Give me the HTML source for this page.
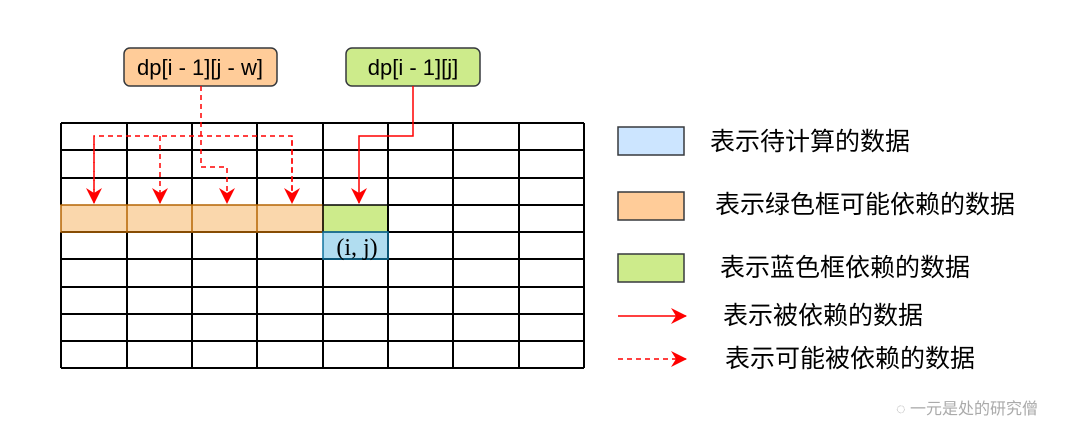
<!DOCTYPE html>
<html><head><meta charset="utf-8"><style>
body{margin:0;background:#fff;width:1065px;height:426px;overflow:hidden;position:relative;font-family:"Liberation Sans","Noto Sans CJK SC",sans-serif}
.t{position:absolute;font-size:25px;color:#000;white-space:nowrap;line-height:28px}
</style></head><body>
<svg width="1065" height="426" style="position:absolute;left:0;top:0">
<defs>
<marker id="b" viewBox="0 0 16 16" markerWidth="16" markerHeight="16" refX="15" refY="8" orient="auto" markerUnits="userSpaceOnUse"><path d="M0,0 L16,8 L0,16 L5,8 Z" fill="#ff0000"/></marker>
</defs>
<rect x="61" y="205" width="262" height="27" fill="#fad7ac"/>
<rect x="323" y="205" width="65" height="27" fill="#cdeb8b"/>
<rect x="323" y="232" width="65" height="27" fill="#b1ddf0"/>
<g stroke="#000" stroke-width="2">
<line x1="61" y1="123" x2="584" y2="123"/><line x1="61" y1="150" x2="584" y2="150"/><line x1="61" y1="178" x2="584" y2="178"/>
<line x1="388" y1="205" x2="584" y2="205"/><line x1="388" y1="232" x2="584" y2="232"/>
<line x1="61" y1="259" x2="584" y2="259"/><line x1="61" y1="287" x2="584" y2="287"/><line x1="61" y1="314" x2="584" y2="314"/><line x1="61" y1="341" x2="584" y2="341"/><line x1="61" y1="368" x2="584" y2="368"/>
<line x1="61" y1="123" x2="61" y2="205"/><line x1="127" y1="123" x2="127" y2="205"/><line x1="192" y1="123" x2="192" y2="205"/><line x1="257" y1="123" x2="257" y2="205"/>
<line x1="61" y1="232" x2="61" y2="368"/><line x1="127" y1="232" x2="127" y2="368"/><line x1="192" y1="232" x2="192" y2="368"/><line x1="257" y1="232" x2="257" y2="368"/>
<line x1="323" y1="123" x2="323" y2="205"/><line x1="323" y1="259" x2="323" y2="368"/>
<line x1="388" y1="123" x2="388" y2="368"/><line x1="453" y1="123" x2="453" y2="368"/><line x1="519" y1="123" x2="519" y2="368"/><line x1="584" y1="123" x2="584" y2="368"/>
<line x1="61" y1="232" x2="323" y2="232"/>
</g>
<g stroke="#b46504" stroke-width="1.5" fill="none">
<rect x="61" y="205" width="262" height="27"/>
<line x1="127" y1="205" x2="127" y2="232"/><line x1="192" y1="205" x2="192" y2="232"/><line x1="257" y1="205" x2="257" y2="232"/>
</g>
<rect x="323" y="205" width="65" height="27" fill="none" stroke="#000" stroke-width="1.5"/>
<rect x="323" y="232" width="65" height="27" fill="none" stroke="#10739e" stroke-width="1.5"/>
<text x="357" y="255" text-anchor="middle" font-family="Liberation Serif" font-size="24">(i, j)</text>
<rect x="124" y="48" width="153" height="38" rx="6" fill="#ffcc99" stroke="#36393d" stroke-width="1.5"/>
<text x="200" y="75" text-anchor="middle" font-size="22">dp[i - 1][j - w]</text>
<rect x="346" y="48" width="134" height="38" rx="6" fill="#cdeb8b" stroke="#36393d" stroke-width="1.5"/>
<text x="413" y="75" text-anchor="middle" font-size="22">dp[i - 1][j]</text>
<g stroke="#ff0000" stroke-width="1.5" fill="none" stroke-dasharray="5,4">
<path d="M201,86 V167 H227 V203" marker-end="url(#b)"/>
<path d="M94,203 V136 H292 V203" />
<path d="M94,140 V203" marker-end="url(#b)"/>
<path d="M160,136 V203" marker-end="url(#b)"/>
<path d="M292,140 V203" marker-end="url(#b)"/>
</g>
<path d="M413,86 V136 H359 V203" stroke="#ff0000" stroke-width="1.5" fill="none" marker-end="url(#b)"/>
<rect x="618" y="127" width="66" height="28" fill="#cce5ff" stroke="#36393d" stroke-width="1.5"/>
<rect x="618" y="192" width="66" height="28" fill="#ffcc99" stroke="#36393d" stroke-width="1.5"/>
<rect x="618" y="254" width="66" height="28" fill="#cdeb8b" stroke="#36393d" stroke-width="1.5"/>
<line x1="618" y1="316" x2="686" y2="316" stroke="#ff0000" stroke-width="1.5" marker-end="url(#b)"/>
<line x1="618" y1="359" x2="686" y2="359" stroke="#ff0000" stroke-width="1.5" stroke-dasharray="5,4" marker-end="url(#b)"/>
</svg>
<div class="t" style="left:710px;top:128px">表示待计算的数据</div>
<div class="t" style="left:715px;top:191px">表示绿色框可能依赖的数据</div>
<div class="t" style="left:720px;top:254px">表示蓝色框依赖的数据</div>
<div class="t" style="left:723px;top:302px">表示被依赖的数据</div>
<div class="t" style="left:725px;top:345px">表示可能被依赖的数据</div>
<div class="t" style="left:896px;top:400px;font-size:16px;line-height:20px;color:#aaa">◌ 一元是处的研究僧</div>
</body></html>
